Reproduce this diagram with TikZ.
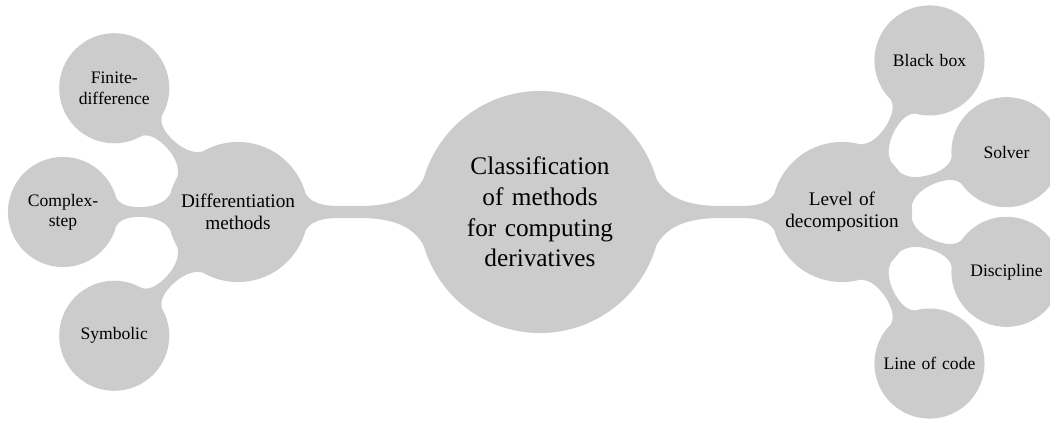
\documentclass[tikz,border=0pt]{standalone}
\usepackage{fontspec}
\setmainfont{Liberation Serif}
\usepackage{tikz}
\usetikzlibrary{mindmap}

\tikzset{
  rootidea/.style={concept, minimum size=4.8cm, text width=3.1cm, inner sep=1pt,
    font=\fontsize{14.4}{17.5}\selectfont},
  branchidea/.style={concept, minimum size=2.76cm, text width=2.35cm, inner sep=1pt,
    font=\fontsize{10.95}{12.5}\selectfont},
  leafidea/.style={concept, minimum size=2.16cm, text width=1.85cm, inner sep=1pt,
    font=\fontsize{10}{11.5}\selectfont},
  linkbar/.style={circle connection bar switch color=from (black!20) to (black!20),
    decoration={amplitude=3.2pt}}
}

\begin{document}
\begin{tikzpicture}[mindmap, concept color=black!20, text=black]
            \useasboundingbox (-10.8,-4.24) rectangle (10.2,4.24);

            % centre
            \node[rootidea] (root) at (0,0) {Classification\\of methods\\for computing\\derivatives};

            % left branch
            \node[branchidea] (diffm) at (-6.04,0) {Differentiation\\methods};
            \node[leafidea] (fd)  at (-8.515,2.475)  {Finite-\\difference};
            \node[leafidea] (cs)  at (-9.54,0)       {Complex-\\step};
            \node[leafidea] (sym) at (-8.515,-2.475) {Symbolic};

            % right branch
            \node[branchidea] (lvl) at (6.04,0) {Level of\\decomposition};
            \node[leafidea] (bb)   at (7.79,3.031)   {Black box};
            \node[leafidea] (slv)  at (9.329,1.197)  {Solver};
            \node[leafidea] (disc) at (9.329,-1.197) {Discipline};
            \node[leafidea] (loc)  at (7.79,-3.031)  {Line of code};

            % bars
            \path (root) to[linkbar] (diffm);
            \path (root) to[linkbar] (lvl);
            \path (diffm) to[linkbar] (fd);
            \path (diffm) to[linkbar] (cs);
            \path (diffm) to[linkbar] (sym);
            \path (lvl) to[linkbar] (bb);
            \path (lvl) to[linkbar] (slv);
            \path (lvl) to[linkbar] (disc);
            \path (lvl) to[linkbar] (loc);
        \end{tikzpicture}
\end{document}
